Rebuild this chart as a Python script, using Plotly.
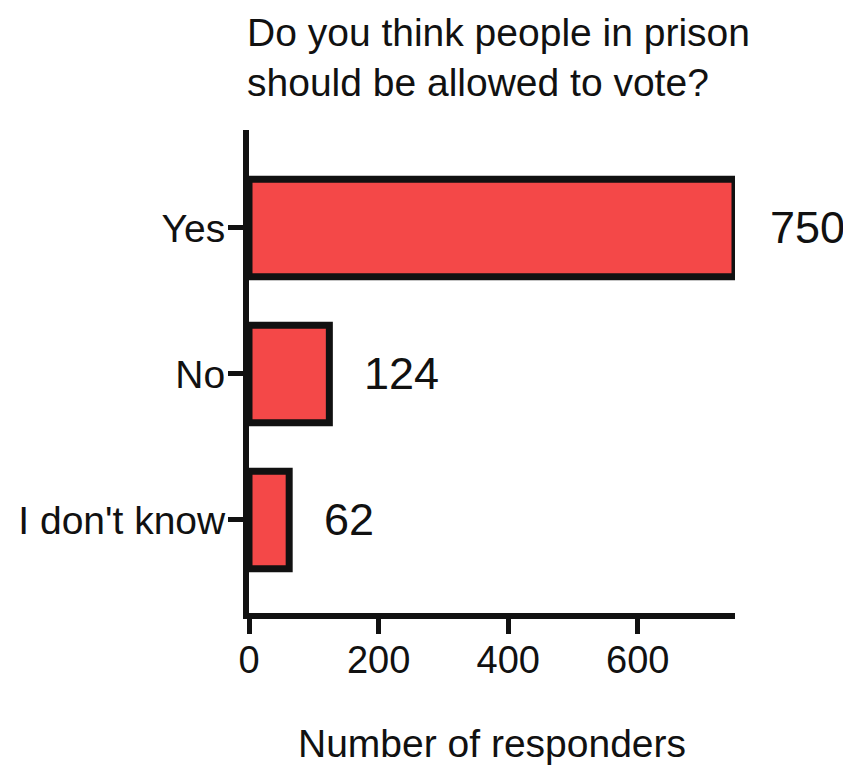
import plotly.graph_objects as go

categories = ["Yes", "No", "I don't know"]
values = [750, 124, 62]
x_ticks = [0, 200, 400, 600]

FONT = "Liberation Sans, Arial, Helvetica, sans-serif"
INK = "#111111"

# The page body has an 8px default margin, so the figure is sized to fit the window.
W, H = 843, 757

fig = go.Figure()
fig.add_trace(go.Bar(
    x=values,
    y=categories,
    orientation="h",
    width=0.667,
    marker=dict(color="#F44848", line=dict(color=INK, width=7)),
    hoverinfo="skip",
))

for v, c in zip(values, categories):
    fig.add_annotation(
        x=v, y=c, xref="x", yref="y",
        text=str(v), showarrow=False,
        xanchor="left", yanchor="middle", xshift=33,
        font=dict(family=FONT, size=45, color=INK),
    )

fig.update_layout(
    width=W, height=H,
    margin=dict(l=241, r=116, t=122, b=152, autoexpand=False),
    paper_bgcolor="white", plot_bgcolor="white",
    showlegend=False,
    font=dict(family=FONT, color=INK),
    title=dict(
        text="Do you think people in prison<br>should be allowed to vote?",
        x=239 / W, xanchor="left", xref="container",
        y=1 - 37.5 / H, yanchor="middle", yref="container",
        font=dict(family=FONT, size=39, color=INK),
        automargin=False,
    ),
    xaxis=dict(
        range=[0, 750],
        automargin=False,
        tickmode="array", tickvals=x_ticks, ticktext=[str(t) for t in x_ticks],
        showgrid=False, zeroline=False,
        showline=True, linecolor=INK, linewidth=6,
        ticks="outside", ticklen=15, tickwidth=5, tickcolor=INK,
        ticklabelstandoff=-7,
        tickfont=dict(family=FONT, size=38, color=INK),
        title=dict(text="Number of responders", standoff=58,
                   font=dict(family=FONT, size=39, color=INK)),
        fixedrange=True,
    ),
    yaxis=dict(
        type="category",
        automargin=False,
        categoryorder="array", categoryarray=categories,
        range=[2.637, -0.671],
        showgrid=False, zeroline=False,
        showline=True, linecolor=INK, linewidth=6,
        ticks="outside", ticklen=15, tickwidth=5, tickcolor=INK,
        ticklabelstandoff=-5,
        tickfont=dict(family=FONT, size=39, color=INK),
        fixedrange=True,
    ),
)

fig.write_html("out.html")
